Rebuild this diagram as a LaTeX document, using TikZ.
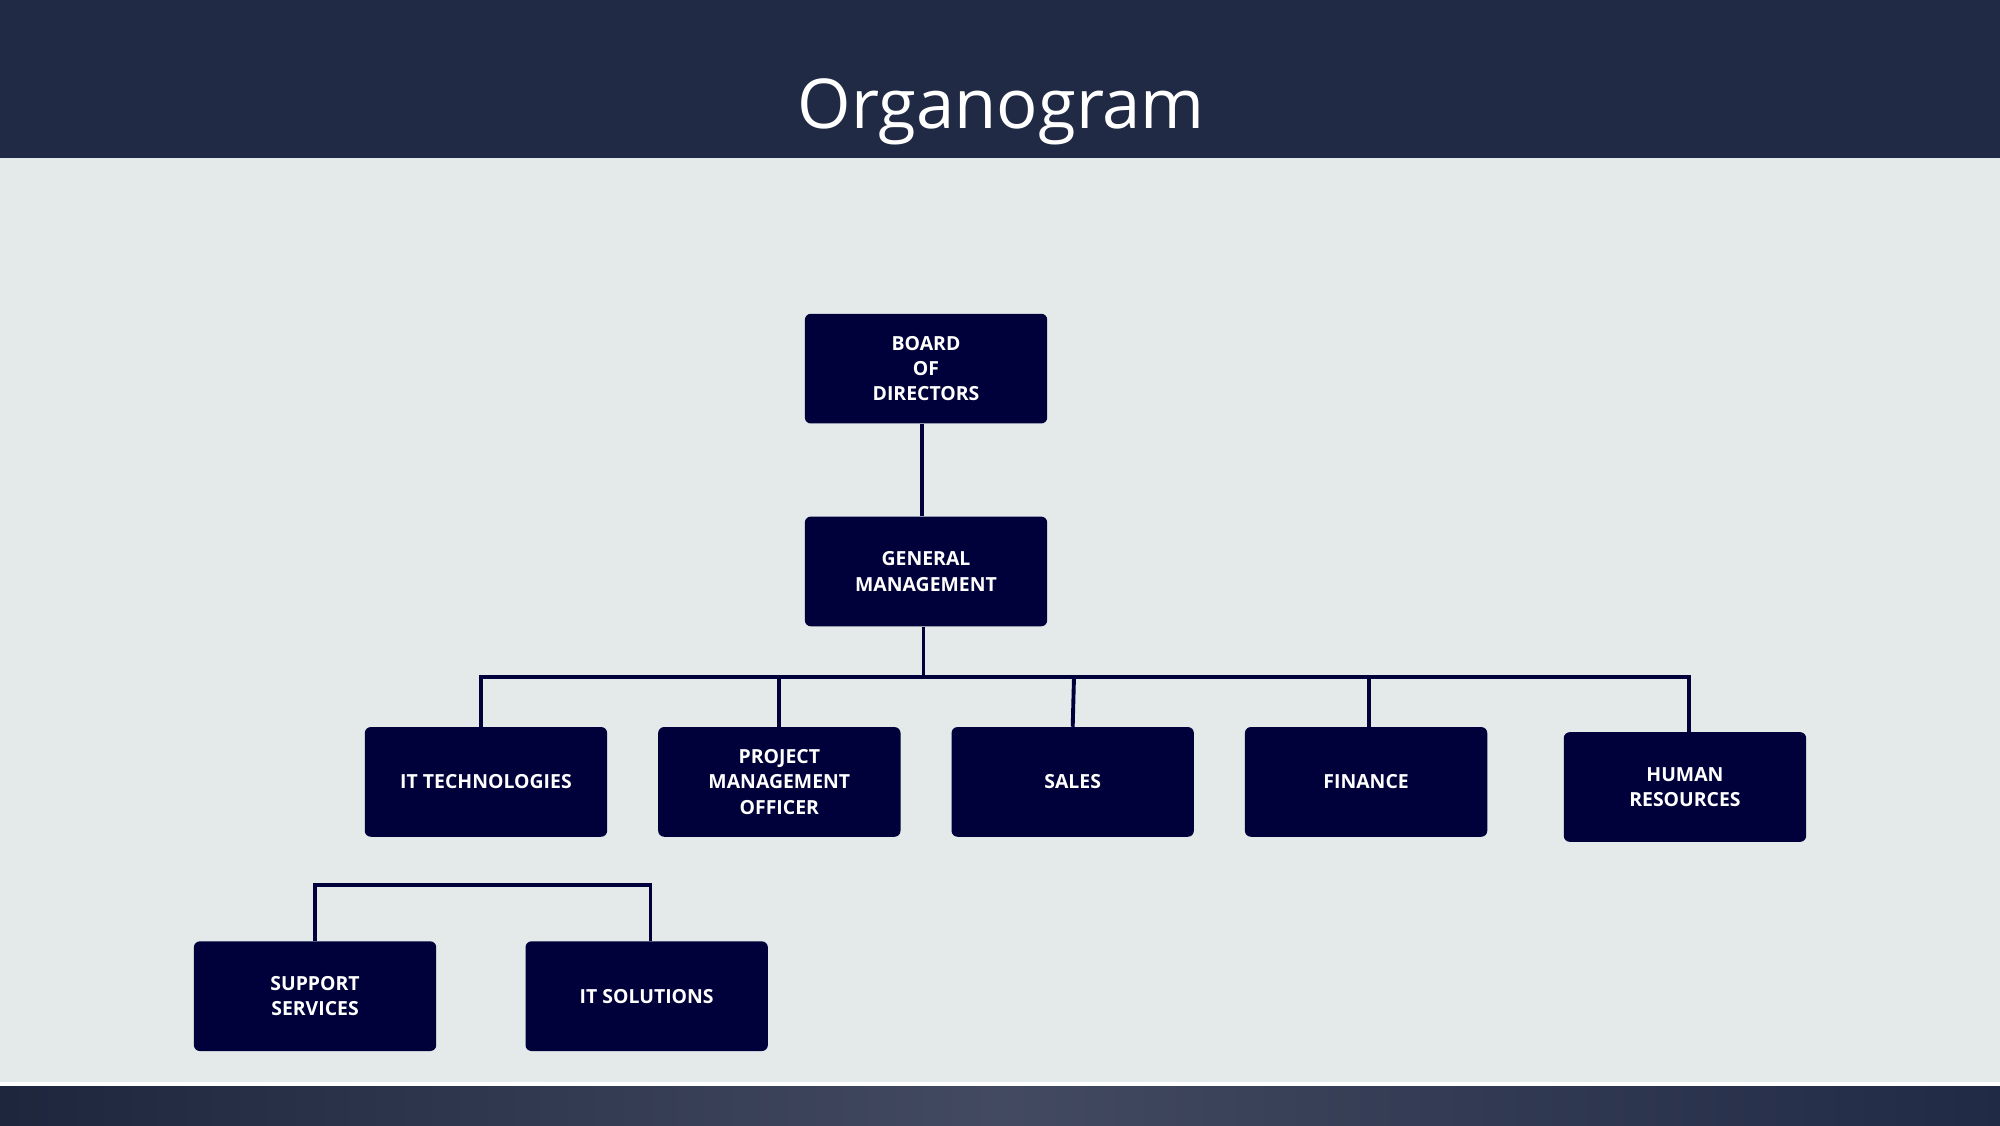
\documentclass[tikz,border=0pt]{standalone}
\usepackage{fontspec}
\setmainfont{Open Sans}
\definecolor{hdr}{HTML}{212A45}
\definecolor{bg}{HTML}{E4EAEA}
\definecolor{boxc}{HTML}{00003A}
\begin{document}
\begin{tikzpicture}[x=0.03cm,y=-0.03cm,
  ob/.style={fill=boxc,rounded corners=4pt,minimum width=190*0.03cm,minimum height=86*0.03cm,text=white,font=\fontsize{13}{17}\selectfont\bfseries,align=center,inner sep=0pt},
  ln/.style={draw=boxc,line width=2.6pt}]
\useasboundingbox (0,0) rectangle (1568,882);
\fill[bg] (0,0) rectangle (1568,882);
\fill[hdr] (0,0) rectangle (1568,124);
\fill[white] (0,848) rectangle (1568,852);
\shade[left color=hdr!90!black,right color=hdr,middle color=hdr!85!white] (0,852) rectangle (1568,882);
\node[text=white,font=\fontsize{46}{50}\selectfont] (title) at (785,88) {Organogram};
\node[ob] (bod) at (726,289) {BOARD\\OF\\DIRECTORS};
\node[ob] (gm) at (726,448) {GENERAL\\MANAGEMENT};
\node[ob] (it) at (381,613) {IT TECHNOLOGIES};
\node[ob] (pmo) at (611,613) {PROJECT\\MANAGEMENT\\OFFICER};
\node[ob] (sales) at (841,613) {SALES};
\node[ob] (fin) at (1071,613) {FINANCE};
\node[ob] (hr) at (1321,617) {HUMAN\\RESOURCES};
\node[ob] (ss) at (247,781) {SUPPORT\\SERVICES};
\node[ob] (its) at (507,781) {IT SOLUTIONS};
\coordinate (bus) at (724,531);
\coordinate (bus2) at (247,694);
\draw[ln] (bod.south -| 723,0) -- (gm.north -| 723,0);
\draw[ln] (gm.south -| 724,0) -- (bus);
\draw[ln] (it.north -| 377,0) -- (377,531) -- (1324,531) -- (hr.north -| 1324,0);
\draw[ln] (pmo.north) -- (611,531);
\draw[ln] (sales.north) -- (842,531);
\draw[ln] (fin.north -| 1073,0) -- (1073,531);
\draw[ln] (ss.north) -- (bus2) -- (510,694) -- (its.north -| 510,0);
\end{tikzpicture}
\end{document}
